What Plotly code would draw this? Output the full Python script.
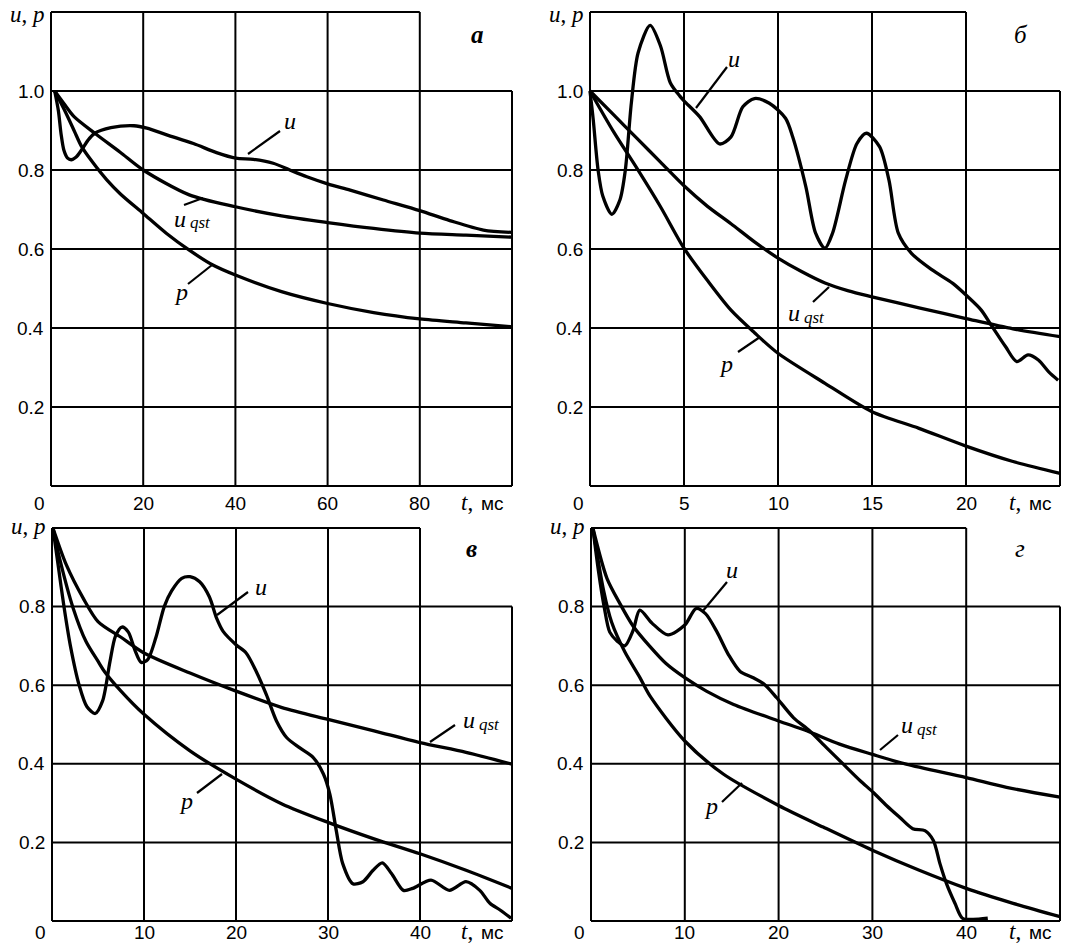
import plotly.graph_objects as go

W, H = 1080, 945

# ---------------- data ----------------
# panel а  (t, ms 0..100)
a_u_t = [0.8, 1.6, 2.2, 2.8, 3.6, 4.4, 5.4, 6.7, 8.0, 9.5, 13.0, 18.0, 20.8, 25.1, 30.9, 35.9, 40.1, 43.9,
         48.2, 51.8, 55.5, 60.0, 64.9, 72.1, 80.0, 86.5, 93.8, 100.0]
a_u = [1.0, 0.95, 0.89, 0.85, 0.83, 0.826, 0.832, 0.852, 0.875, 0.893, 0.907, 0.912, 0.906, 0.889, 0.867, 0.844,
       0.83, 0.827, 0.817, 0.80, 0.783, 0.765, 0.749, 0.724, 0.697, 0.672, 0.648, 0.642]
a_q_t = [0.8, 3.0, 5.0, 9.5, 15.0, 20.0, 30.0, 40.0, 50.0, 60.0, 70.0, 80.0, 90.0, 100.0]
a_q = [1.0, 0.965, 0.935, 0.893, 0.845, 0.80, 0.737, 0.707, 0.684, 0.667, 0.652, 0.64, 0.635, 0.63]
a_p_t = [0.8, 3.0, 5.0, 6.65, 9.0, 12.1, 15.0, 20.0, 25.0, 30.0, 35.0, 40.0, 50.0, 60.0, 70.0, 80.0, 90.0, 100.0]
a_p = [1.0, 0.95, 0.9, 0.859, 0.82, 0.775, 0.74, 0.69, 0.64, 0.597, 0.56, 0.534, 0.492, 0.462, 0.439, 0.423,
       0.413, 0.403]

# panel б  (t, ms 0..25)
b_u_t = [0, 0.17, 0.43, 0.68, 1.16, 1.59, 1.88, 2.2, 2.56, 3.2, 3.75, 4.27, 4.78, 5.0, 5.83, 6.89, 7.5, 8.13,
         8.75, 9.54, 10.4, 10.78, 11.48, 12.0, 12.5, 12.9, 13.6, 14.2, 14.7, 15.4, 15.9, 16.4, 17.1, 18.2,
         19.3, 20.1, 20.8, 21.4, 22.1, 22.7, 23.3, 23.85, 24.4, 24.9]
b_u = [1.0, 0.928, 0.80, 0.734, 0.688, 0.724, 0.80, 0.97, 1.097, 1.166, 1.114, 1.021, 0.987, 0.975, 0.935, 0.866,
       0.884, 0.96, 0.981, 0.969, 0.931, 0.884, 0.758, 0.64, 0.602, 0.64, 0.775, 0.867, 0.893, 0.859, 0.775,
       0.64, 0.589, 0.547, 0.513, 0.479, 0.446, 0.403, 0.353, 0.315, 0.332, 0.319, 0.289, 0.268]
b_q_t = [0, 1.25, 2.5, 3.75, 5, 6.25, 7.5, 8.75, 10, 11.25, 12.5, 13.75, 15, 17.5, 20, 22.5, 25]
b_q = [1.0, 0.94, 0.88, 0.82, 0.76, 0.708, 0.664, 0.618, 0.577, 0.543, 0.514, 0.494, 0.479, 0.451, 0.424,
       0.398, 0.378]
b_p_t = [0, 1.25, 2.5, 3.75, 5, 6.25, 7.5, 8.75, 10, 12.5, 15, 17.5, 20, 22.5, 25]
b_p = [1.0, 0.897, 0.804, 0.707, 0.602, 0.52, 0.445, 0.388, 0.336, 0.26, 0.188, 0.146, 0.101, 0.062, 0.032]

# panel в  (t, ms 0..50)
c_u_t = [0.1, 0.7, 1.3, 2.0, 2.95, 3.8, 4.7, 5.5, 6.3, 6.9, 7.6, 8.3, 9.0, 9.7, 10.4, 11.3, 12.2, 13.0, 14.1,
         15.0, 16.05, 17.1, 17.9, 18.6, 20.0, 21.1, 22.2, 23.3, 24.4, 25.5, 26.9, 28.4, 29.5, 30.2, 30.9,
         31.6, 32.7, 33.8, 34.9, 35.9, 36.9, 38.2, 39.2, 41.2, 43.2, 45.0, 46.5, 47.6, 48.7, 49.9]
c_u = [1.0, 0.9, 0.8, 0.7, 0.6, 0.545, 0.528, 0.56, 0.66, 0.725, 0.748, 0.735, 0.69, 0.658, 0.665, 0.722, 0.80,
       0.84, 0.872, 0.876, 0.863, 0.825, 0.77, 0.737, 0.703, 0.682, 0.635, 0.576, 0.509, 0.467, 0.441, 0.416,
       0.374, 0.323, 0.23, 0.146, 0.095, 0.10, 0.129, 0.148, 0.121, 0.078, 0.083, 0.104, 0.078, 0.10, 0.078,
       0.045, 0.028, 0.007]
c_q_t = [0.1, 1.56, 3.4, 5, 7.5, 10, 15, 20, 25, 30, 35, 40, 45, 50]
c_q = [1.0, 0.906, 0.821, 0.762, 0.722, 0.682, 0.631, 0.585, 0.543, 0.513, 0.484, 0.454, 0.429, 0.399]
c_p_t = [0.1, 0.83, 2.3, 3.7, 5, 5.7, 7.5, 10, 15, 20, 25, 30, 35, 40, 45, 50]
c_p = [1.0, 0.922, 0.796, 0.711, 0.661, 0.635, 0.585, 0.526, 0.433, 0.361, 0.298, 0.251, 0.209, 0.171, 0.129,
       0.083]

# panel г  (t, ms 0..50)
d_u_t = [0.2, 0.8, 1.4, 2.0, 2.8, 3.6, 4.5, 5.2, 6.5, 8.2, 10.0, 11.2, 12.2, 13.4, 14.65, 15.9, 17.3, 18.5,
         19.8, 21.6, 23.3, 25.1, 26.9, 28.7, 30.1, 31.5, 32.9, 34.3, 35.6, 36.5, 37.2, 37.9, 38.8, 39.6,
         40.7, 42.3]
d_u = [1.0, 0.89, 0.80, 0.735, 0.712, 0.70, 0.74, 0.791, 0.758, 0.728, 0.753, 0.795, 0.782, 0.737, 0.678,
       0.635, 0.619, 0.602, 0.568, 0.517, 0.484, 0.441, 0.399, 0.357, 0.327, 0.294, 0.264, 0.235, 0.23, 0.205,
       0.146, 0.095, 0.045, 0.007, 0.004, 0.007]
d_q_t = [0.2, 1.7, 3.1, 4.5, 6.3, 8.0, 10, 12.3, 15.2, 20, 23, 26.5, 30, 33.6, 40, 44.3, 50]
d_q = [1.0, 0.872, 0.807, 0.75, 0.698, 0.655, 0.619, 0.585, 0.551, 0.509, 0.484, 0.45, 0.424, 0.399, 0.365,
       0.34, 0.315]
d_p_t = [0.2, 1.35, 2.2, 3.6, 5.2, 6.3, 10, 14.1, 20, 24.75, 30, 35, 40, 45, 50]
d_p = [1.0, 0.84, 0.76, 0.685, 0.62, 0.572, 0.458, 0.374, 0.294, 0.239, 0.18, 0.129, 0.083, 0.045, 0.011]

# ticks
a_xticks = [20, 40, 60, 80]
b_xticks = [5, 10, 15, 20]
c_xticks = [10, 20, 30, 40]
d_xticks = [10, 20, 30, 40]
top_yticks = [0.2, 0.4, 0.6, 0.8, 1.0]
bot_yticks = [0.2, 0.4, 0.6, 0.8]
panel_letters = ["а", "б", "в", "г"]
x_unit = "мс"

# ---------------- layout helpers ----------------
SANS = "Liberation Sans"
SERIF = "Liberation Serif"
PAD = 4

panels = [
    dict(px0=51, px1=512, py0=486, py1=12, xmax=100, xstep=20, ymax=1.2, ystep=0.2,
         series=[(a_u_t, a_u), (a_q_t, a_q), (a_p_t, a_p)], xticks=a_xticks, yticks=top_yticks,
         xlab_dy=17, letter=panel_letters[0], bold=True, letter_px=(477, 35),
         u_lab=(290, 121), u_line=(248, 154, 280, 131),
         q_lab=(172, 219), q_line=(184, 205, 203, 198),
         p_lab=(181, 292), p_line=(188, 284, 212, 265)),
    dict(px0=590, px1=1060, py0=486, py1=12, xmax=25, xstep=5, ymax=1.2, ystep=0.2,
         series=[(b_u_t, b_u), (b_q_t, b_q), (b_p_t, b_p)], xticks=b_xticks, yticks=top_yticks,
         xlab_dy=17, letter=panel_letters[1], bold=False, letter_px=(1021, 35),
         u_lab=(734, 59), u_line=(696, 108, 727, 67),
         q_lab=(786, 313), q_line=(813, 302, 829, 287),
         p_lab=(726, 364), p_line=(738, 352, 760, 337)),
    dict(px0=52, px1=512, py0=921, py1=528, xmax=50, xstep=10, ymax=1.0, ystep=0.2,
         series=[(c_u_t, c_u), (c_q_t, c_q), (c_p_t, c_p)], xticks=c_xticks, yticks=bot_yticks,
         xlab_dy=11, letter=panel_letters[2], bold=True, letter_px=(471, 548),
         u_lab=(261, 587), u_line=(217, 615, 248, 592),
         q_lab=(461, 720), q_line=(430, 742, 455, 725),
         p_lab=(186, 801), p_line=(197, 793, 222, 774)),
    dict(px0=591, px1=1060, py0=921, py1=528, xmax=50, xstep=10, ymax=1.0, ystep=0.2,
         series=[(d_u_t, d_u), (d_q_t, d_q), (d_p_t, d_p)], xticks=d_xticks, yticks=bot_yticks,
         xlab_dy=11, letter=panel_letters[3], bold=False, letter_px=(1020, 548),
         u_lab=(732, 570), u_line=(702, 612, 727, 582),
         q_lab=(899, 725), q_line=(880, 750, 898, 735),
         p_lab=(711, 806), p_line=(722, 802, 742, 783)),
]


def px(x):
    return x / W


def py(y):
    return 1 - y / H


fig = go.Figure()
layout = dict(width=W, height=H, margin=dict(l=0, r=0, t=0, b=0),
              paper_bgcolor="white", plot_bgcolor="white", showlegend=False)
shapes = []
annotations = []

for i, p in enumerate(panels, start=1):
    xa = "x" if i == 1 else f"x{i}"
    ya = "y" if i == 1 else f"y{i}"
    xw = p["px1"] - p["px0"]
    yh = p["py0"] - p["py1"]
    xpad = PAD * p["xmax"] / xw
    ypad = PAD * p["ymax"] / yh
    axis_common = dict(showgrid=False, zeroline=False, showline=False, showticklabels=False, ticks="",
                       fixedrange=True)
    layout["xaxis" if i == 1 else f"xaxis{i}"] = dict(
        domain=[px(p["px0"] - PAD), px(p["px1"] + PAD)], range=[-xpad, p["xmax"] + xpad],
        anchor=ya, **axis_common)
    layout["yaxis" if i == 1 else f"yaxis{i}"] = dict(
        domain=[py(p["py0"] + PAD), py(p["py1"] - PAD)], range=[-ypad, p["ymax"] + ypad],
        anchor=xa, **axis_common)

    # grid (open top-right cell)
    nx = round(p["xmax"] / p["xstep"])
    ny = round(p["ymax"] / p["ystep"])
    for k in range(nx + 1):
        xv = k * p["xstep"]
        ytop = p["ymax"] if k < nx else p["ymax"] - p["ystep"]
        shapes.append(dict(type="line", xref=xa, yref=ya, x0=xv, x1=xv, y0=0, y1=ytop,
                           line=dict(color="black", width=2), layer="below"))
    for k in range(ny + 1):
        yv = k * p["ystep"]
        xr = p["xmax"] if k < ny else p["xmax"] - p["xstep"]
        shapes.append(dict(type="line", xref=xa, yref=ya, x0=0, x1=xr, y0=yv, y1=yv,
                           line=dict(color="black", width=2), layer="below"))

    # curves
    for (tt, vv) in p["series"]:
        fig.add_trace(go.Scatter(x=tt, y=vv, mode="lines", xaxis=xa, yaxis=ya,
                                 line=dict(color="black", width=3.3, shape="spline", smoothing=0.8),
                                 hoverinfo="skip"))

    # tick labels
    for yv in p["yticks"]:
        annotations.append(dict(xref=xa, yref=ya, x=0, y=yv, text=f"{yv:.1f}", showarrow=False,
                                xanchor="right", yanchor="middle", xshift=-5,
                                font=dict(family=SANS, size=19, color="black")))
    for xv in p["xticks"]:
        annotations.append(dict(xref=xa, yref=ya, x=xv, y=0, text=f"{xv}", showarrow=False,
                                xanchor="center", yanchor="middle", yshift=-p["xlab_dy"],
                                font=dict(family=SANS, size=19, color="black")))
    annotations.append(dict(xref=xa, yref=ya, x=0, y=0, text="0", showarrow=False,
                            xanchor="center", yanchor="middle", xshift=-12, yshift=-p["xlab_dy"],
                            font=dict(family=SANS, size=19, color="black")))
    # axis title "t, мс"
    annotations.append(dict(xref=xa, yref=ya, x=p["xmax"], y=0, text=x_unit,
                            showarrow=False, xanchor="right", yanchor="middle", xshift=-6,
                            yshift=-p["xlab_dy"],
                            font=dict(family=SANS, size=19, color="black")))
    annotations.append(dict(xref=xa, yref=ya, x=p["xmax"], y=0, text="<i>t</i>,",
                            showarrow=False, xanchor="right", yanchor="middle", xshift=-37,
                            yshift=-p["xlab_dy"] + 1,
                            font=dict(family=SERIF, size=23, color="black")))
    annotations.append(dict(xref=xa, yref=ya, x=0, y=p["ymax"], text="<i>u</i>, <i>p</i>",
                            showarrow=False, xanchor="right", yanchor="middle", xshift=-4,
                            yshift=-2 if i <= 2 else 2,
                            font=dict(family=SERIF, size=23, color="black")))

    # panel letter
    lt = f"<b><i>{p['letter']}</i></b>" if p["bold"] else f"<i>{p['letter']}</i>"
    annotations.append(dict(xref="paper", yref="paper", x=px(p["letter_px"][0]), y=py(p["letter_px"][1]),
                            text=lt, showarrow=False, xanchor="center", yanchor="middle",
                            font=dict(family=SERIF, size=25, color="black")))

    # curve labels
    annotations.append(dict(xref="paper", yref="paper", x=px(p["u_lab"][0]), y=py(p["u_lab"][1]),
                            text="<i>u</i>", showarrow=False, xanchor="center", yanchor="middle",
                            font=dict(family=SERIF, size=24, color="black")))
    annotations.append(dict(xref="paper", yref="paper", x=px(p["q_lab"][0]), y=py(p["q_lab"][1]),
                            text="<i>u</i>", showarrow=False, xanchor="left",
                            yanchor="middle", font=dict(family=SERIF, size=24, color="black")))
    annotations.append(dict(xref="paper", yref="paper", x=px(p["q_lab"][0] + 16), y=py(p["q_lab"][1] + 4),
                            text="<i>qst</i>", showarrow=False, xanchor="left",
                            yanchor="middle", font=dict(family=SERIF, size=17, color="black")))
    annotations.append(dict(xref="paper", yref="paper", x=px(p["p_lab"][0]), y=py(p["p_lab"][1]),
                            text="<i>p</i>", showarrow=False, xanchor="center", yanchor="middle",
                            font=dict(family=SERIF, size=24, color="black")))
    for key in ("u_line", "q_line", "p_line"):
        x0, y0, x1, y1 = p[key]
        shapes.append(dict(type="line", xref="paper", yref="paper", x0=px(x0), y0=py(y0), x1=px(x1),
                           y1=py(y1), line=dict(color="black", width=2.2)))

layout["shapes"] = shapes
layout["annotations"] = annotations
fig.update_layout(**layout)
fig.write_html("out.html", config={"displayModeBar": False},
               post_script="document.body.style.margin='0';document.body.style.overflow='hidden';")
